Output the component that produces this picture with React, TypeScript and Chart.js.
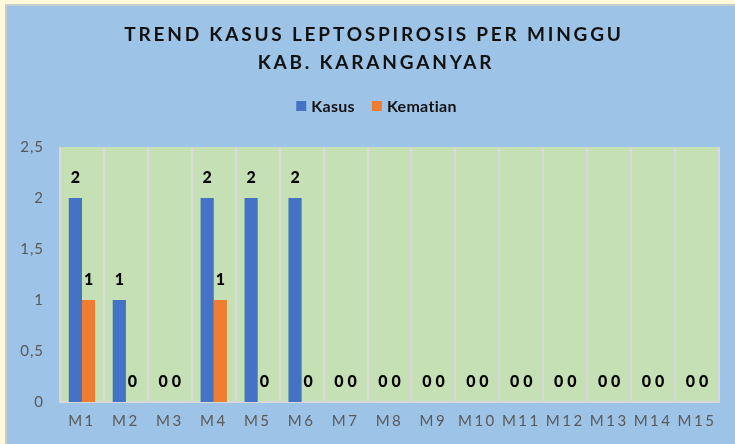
import React, { useEffect, useRef } from "react";
import { Chart, registerables } from "chart.js";

Chart.register(...registerables);

const categories = ["M1", "M2", "M3", "M4", "M5", "M6", "M7", "M8", "M9", "M10", "M11", "M12", "M13", "M14", "M15"];
const kasus = [2, 1, 0, 2, 2, 2, 0, 0, 0, 0, 0, 0, 0, 0, 0];
const kematian = [1, 0, 0, 1, 0, 0, 0, 0, 0, 0, 0, 0, 0, 0, 0];
const seriesNames = ["Kasus", "Kematian"];
const seriesColors = ["#4472C4", "#ED7D31"];
const titleLines = ["TREND KASUS LEPTOSPIROSIS PER MINGGU", "KAB. KARANGANYAR"];

const FONT = "Lato, 'Open Sans', sans-serif";

const decorPlugin = {
  id: "decor",
  beforeDraw(chart: any) {
    const ctx = chart.ctx;
    const { width, height } = chart;
    ctx.save();
    ctx.fillStyle = "#FFF8DA";
    ctx.fillRect(0, 0, width, height);
    ctx.fillStyle = "#C9CCCF";
    ctx.fillRect(5, 4, width - 5, height - 4);
    ctx.fillStyle = "#9DC3E6";
    ctx.fillRect(7, 6, width - 7, height - 6);
    const a = chart.chartArea;
    ctx.fillStyle = "#C5E0B4";
    ctx.fillRect(a.left, a.top, a.right - a.left, a.bottom - a.top);
    ctx.restore();
    (ctx as any).letterSpacing = "2.5px";
  },
  beforeDatasetsDraw(chart: any) {
    (chart.ctx as any).letterSpacing = "0px";
  },
  afterDatasetsDraw(chart: any) {
    (chart.ctx as any).letterSpacing = "1px";
  },
  afterDraw(chart: any) {
    const ctx = chart.ctx;
    ctx.save();
    // Title
    (ctx as any).letterSpacing = "2.8px";
    ctx.fillStyle = "#111111";
    ctx.font = `bold 19px ${FONT}`;
    ctx.textAlign = "center";
    ctx.textBaseline = "middle";
    ctx.fillText(titleLines[0], 374, 35);
    ctx.fillText(titleLines[1], 376, 63);

    // Legend
    (ctx as any).letterSpacing = "0.3px";
    ctx.font = `bold 16px ${FONT}`;
    ctx.textAlign = "left";
    const box = 10;
    const gapBoxText = 5;
    const gapItems = 17;
    const widths = seriesNames.map((n) => ctx.measureText(n).width);
    const total = widths.reduce((s, w) => s + box + gapBoxText + w, 0) + gapItems;
    let x = 376.5 - total / 2;
    const ly = 106;
    seriesNames.forEach((n, i) => {
      ctx.fillStyle = seriesColors[i];
      ctx.fillRect(x, ly - box / 2, box, box);
      ctx.fillStyle = "#111111";
      ctx.fillText(n, x + box + gapBoxText, ly + 1);
      x += box + gapBoxText + widths[i] + gapItems;
    });

    // Data labels
    (ctx as any).letterSpacing = "0px";
    ctx.font = `900 16px ${FONT}`;
    ctx.textAlign = "center";
    ctx.textBaseline = "middle";
    ctx.fillStyle = "#000000";
    chart.data.datasets.forEach((ds: any, di: number) => {
      const meta = chart.getDatasetMeta(di);
      meta.data.forEach((el: any, i: number) => {
        ctx.fillText(String(ds.data[i]), el.x, el.y - 20);
      });
    });
    ctx.restore();
    (ctx as any).letterSpacing = "0px";
  },
};

export default function App() {
  const ref = useRef<HTMLCanvasElement | null>(null);
  useEffect(() => {
    if (!ref.current) return;
    const chart = new Chart(ref.current, {
      type: "bar",
      data: {
        labels: categories,
        datasets: [
          { label: seriesNames[0], data: kasus, backgroundColor: seriesColors[0], borderWidth: 0 },
          { label: seriesNames[1], data: kematian, backgroundColor: seriesColors[1], borderWidth: 0 },
        ],
      },
      options: {
        responsive: false,
        animation: false,
        devicePixelRatio: 1,
        layout: { padding: { top: 147, right: 16, bottom: 0, left: 0 } },
        datasets: { bar: { categoryPercentage: 0.6, barPercentage: 1 } },
        plugins: {
          legend: { display: false },
          title: { display: false },
          tooltip: { enabled: false },
        },
        scales: {
          x: {
            grid: { color: "#D9D9D9", lineWidth: 2, drawTicks: false, offset: true },
            border: { color: "#D9D9D9", width: 2 },
            ticks: { color: "#595959", font: { family: FONT, size: 15 }, padding: 10, maxRotation: 0 },
            afterFit(scale: any) {
              scale.height = 42;
            },
          },
          y: {
            min: 0,
            max: 2.5,
            grid: { display: false, drawTicks: false },
            border: { display: false },
            ticks: {
              z: 1,
              stepSize: 0.5,
              color: "#595959",
              font: { family: FONT, size: 15 },
              padding: 16,
              callback: (v: any) => String(v).replace(".", ","),
            },
            afterFit(scale: any) {
              scale.width = 60;
            },
          },
        },
      },
      plugins: [decorPlugin],
    });
    return () => chart.destroy();
  }, []);
  return (
    <div style={{ position: "absolute", left: 0, top: 0, width: 735, height: 444 }}>
      <canvas ref={ref} width={735} height={444} style={{ display: "block" }} />
    </div>
  );
}
